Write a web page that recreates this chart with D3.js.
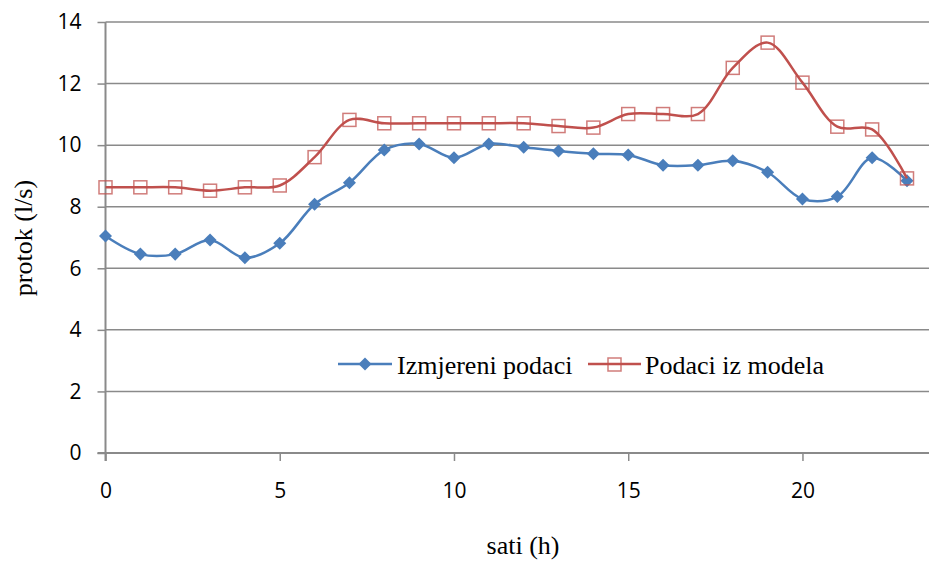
<!DOCTYPE html>
<html><head><meta charset="utf-8">
<script src="https://cdn.jsdelivr.net/npm/d3@7"></script>
<style>body{margin:0;background:#fff}svg{display:block}</style>
</head><body>
<script>
const hours = [0,1,2,3,4,5,6,7,8,9,10,11,12,13,14,15,16,17,18,19,20,21,22,23];
const measured = [7.05,6.46,6.46,6.92,6.34,6.81,8.08,8.78,9.84,10.04,9.59,10.04,9.93,9.81,9.72,9.68,9.35,9.35,9.49,9.12,8.25,8.33,9.59,8.84];
const model = [8.63,8.63,8.63,8.52,8.63,8.69,9.61,10.82,10.71,10.71,10.71,10.71,10.71,10.62,10.57,11.01,11.01,11.01,12.51,13.33,12.03,10.6,10.51,8.92];
const yTicks = [0,2,4,6,8,10,12,14];
const xTicks = [0,5,10,15,20];
const seriesNames = ["Izmjereni podaci","Podaci iz modela"];
const xTitle = "sati (h)";
const yTitle = "protok (l/s)";

const W=929,H=562;
const svg=d3.select("body").append("svg").attr("width",W).attr("height",H);
const x=d3.scaleLinear().domain([0,25]).range([105.5,976.7]);
const y=d3.scaleLinear().domain([0,14]).range([453,22]);
const grey="#8a8a8a";
const sans="'Open Sans', sans-serif", serif="'Liberation Serif','Times New Roman',serif";

// gridlines
svg.append("g").selectAll("line").data(yTicks.filter(d=>d>0)).join("line")
 .attr("x1",x(0)).attr("x2",W).attr("y1",d=>y(d)).attr("y2",d=>y(d))
 .attr("stroke",grey).attr("stroke-width",1.5);

// y axis
const ya=svg.append("g").attr("transform",`translate(${x(0)},0)`)
 .call(d3.axisLeft(y).tickValues(yTicks).tickSize(8).tickPadding(16).tickFormat(d3.format("d")));
ya.select(".domain").remove();
ya.append("line").attr("x1",0).attr("x2",0).attr("y1",y(14)).attr("y2",y(0)+8).attr("stroke",grey).attr("stroke-width",2);
ya.selectAll(".tick line").attr("stroke",grey).attr("stroke-width",1.5);
ya.selectAll(".tick text").attr("font-family",sans).attr("font-size",21).attr("fill","#000");

// x axis
const xa=svg.append("g").attr("transform",`translate(0,${y(0)})`)
 .call(d3.axisBottom(x).tickValues(xTicks).tickSize(8).tickPadding(22).tickFormat(d3.format("d")));
xa.select(".domain").remove();
xa.append("line").attr("x1",x(0)-8).attr("x2",W).attr("y1",0).attr("y2",0).attr("stroke",grey).attr("stroke-width",2);
xa.selectAll(".tick line").attr("stroke",grey).attr("stroke-width",1.5);
xa.selectAll(".tick text").attr("font-family",sans).attr("font-size",21).attr("fill","#000");

// titles
svg.append("text").attr("x",523).attr("y",554).attr("text-anchor","middle")
 .attr("font-family",serif).attr("font-size",26).text(xTitle);
svg.append("text").attr("transform","translate(32,238) rotate(-90)").attr("text-anchor","middle")
 .attr("font-family",serif).attr("font-size",26).text(yTitle);

const line=d3.line().x((d,i)=>x(hours[i])).y(d=>y(d)).curve(d3.curveCatmullRom.alpha(0.5));
const blue="#4a7ebb", red="#c0504d";
const diamond=d3.symbol().type(d3.symbolDiamond2).size(110);

// measured
svg.append("path").datum(measured).attr("d",line).attr("fill","none").attr("stroke",blue).attr("stroke-width",2.5);
svg.append("g").selectAll("path").data(measured).join("path")
 .attr("transform",(d,i)=>`translate(${x(hours[i])},${y(d)}) rotate(45)`)
 .attr("d",d3.symbol().type(d3.symbolSquare).size(85)).attr("fill",blue);

// model
svg.append("path").datum(model).attr("d",line).attr("fill","none").attr("stroke",red).attr("stroke-width",2.5);
svg.append("g").selectAll("rect").data(model).join("rect")
 .attr("x",(d,i)=>x(hours[i])-6.5).attr("y",d=>y(d)-6.5).attr("width",13).attr("height",13)
 .attr("fill","none").attr("stroke",red).attr("stroke-opacity",0.75).attr("stroke-width",1.5);

// legend
const lg=svg.append("g");
lg.append("line").attr("x1",338).attr("x2",392).attr("y1",364).attr("y2",364).attr("stroke",blue).attr("stroke-width",2.5);
lg.append("path").attr("transform","translate(365,364) rotate(45)").attr("d",d3.symbol().type(d3.symbolSquare).size(85)).attr("fill",blue);
lg.append("text").attr("x",397).attr("y",374).attr("font-family",serif).attr("font-size",26).text(seriesNames[0]);
lg.append("line").attr("x1",588).attr("x2",641).attr("y1",364).attr("y2",364).attr("stroke",red).attr("stroke-width",2.5);
lg.append("rect").attr("x",608).attr("y",358).attr("width",13).attr("height",13).attr("fill","none").attr("stroke",red).attr("stroke-opacity",0.75).attr("stroke-width",1.5);
lg.append("text").attr("x",645).attr("y",374).attr("font-family",serif).attr("font-size",26).text(seriesNames[1]);
</script>
</body></html>
